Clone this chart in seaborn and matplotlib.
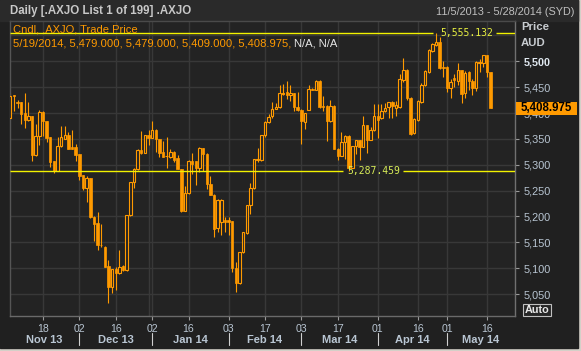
import numpy as np
import pandas as pd
import matplotlib
matplotlib.use("Agg")
import matplotlib.pyplot as plt
from matplotlib.patches import Rectangle
import seaborn as sns

# daily OHLC for .AXJO, 5 Nov 2013 .. 19 May 2014
opens = [5390, 5434, 5421, 5421, 5400, 5386, 5394, 5318, 5356, 5402,
         5384, 5353, 5307, 5288, 5336, 5350, 5358, 5334, 5334, 5320,
         5280, 5256, 5274, 5199, 5188, 5145, 5140, 5105, 5063, 5098,
         5090, 5104, 5096, 5202, 5267, 5291, 5328, 5323, 5358, 5352,
         5368, 5349, 5325, 5316, 5315, 5325, 5313, 5291, 5211, 5245,
         5308, 5307, 5293, 5332, 5321, 5263, 5242, 5177, 5190, 5193,
         5193, 5191, 5100, 5071, 5131, 5168, 5223, 5255, 5310, 5309,
         5358, 5382, 5395, 5408, 5411, 5436, 5441, 5435, 5438, 5412,
         5406, 5382, 5406, 5446, 5445, 5462, 5414, 5414, 5384, 5414,
         5330, 5317, 5344, 5356, 5294, 5336, 5347, 5335, 5376, 5348,
         5367, 5395, 5390, 5403, 5411, 5422, 5410, 5411, 5463, 5483,
         5430, 5362, 5387, 5422, 5455, 5480, 5520, 5532, 5537, 5490,
         5489, 5449, 5467, 5462, 5483, 5438, 5480, 5462, 5449, 5496,
         5497, 5512, 5479]
highs = [5438, 5435, 5426, 5422, 5438, 5421, 5395, 5379, 5406, 5404,
         5385, 5354, 5308, 5354, 5375, 5375, 5364, 5367, 5341, 5321,
         5281, 5278, 5275, 5200, 5209, 5186, 5143, 5116, 5099, 5102,
         5136, 5106, 5203, 5267, 5293, 5330, 5365, 5358, 5367, 5384,
         5369, 5350, 5346, 5354, 5330, 5326, 5319, 5292, 5258, 5310,
         5322, 5308, 5334, 5333, 5322, 5279, 5243, 5233, 5233, 5199,
         5199, 5192, 5112, 5132, 5170, 5223, 5265, 5312, 5332, 5358,
         5384, 5398, 5422, 5420, 5455, 5457, 5462, 5454, 5439, 5440,
         5407, 5400, 5455, 5448, 5463, 5463, 5433, 5415, 5425, 5415,
         5332, 5364, 5358, 5357, 5337, 5348, 5348, 5395, 5377, 5373,
         5417, 5417, 5417, 5420, 5422, 5423, 5424, 5475, 5507, 5485,
         5431, 5390, 5425, 5458, 5483, 5523, 5536, 5555.132, 5548, 5500,
         5491, 5466, 5476, 5496, 5484, 5482, 5482, 5466, 5501, 5505,
         5512, 5513, 5479]
lows = [5389, 5404, 5409, 5379, 5372, 5385, 5307, 5317, 5339, 5355,
        5344, 5296, 5285, 5287, 5335, 5349, 5331, 5330, 5307, 5270,
        5251, 5227, 5197, 5153, 5135, 5140, 5103, 5032, 5052, 5058,
        5089, 5095, 5095, 5201, 5256, 5290, 5320, 5322, 5339, 5351,
        5325, 5315, 5315, 5294, 5314, 5306, 5291, 5208, 5210, 5244,
        5283, 5260, 5286, 5287, 5254, 5241, 5160, 5170, 5164, 5170,
        5164, 5093, 5054, 5070, 5130, 5167, 5205, 5254, 5305, 5308,
        5354, 5380, 5391, 5407, 5410, 5435, 5428, 5424, 5404, 5404,
        5340, 5369, 5405, 5444, 5444, 5410, 5404, 5345, 5383, 5330,
        5309, 5316, 5311, 5287.459, 5293, 5321, 5310, 5334, 5322, 5347,
        5366, 5351, 5389, 5402, 5391, 5391, 5395, 5410, 5460, 5425,
        5358, 5360, 5385, 5420, 5453, 5477, 5518, 5530, 5485, 5470,
        5440, 5430, 5450, 5455, 5420, 5430, 5445, 5435, 5442, 5480,
        5490, 5470, 5409]
closes = [5433, 5432, 5420, 5399, 5386, 5394, 5318, 5356, 5402, 5384,
          5352, 5306, 5287, 5336, 5354, 5358, 5331, 5331, 5319, 5278,
          5256, 5275, 5198, 5186, 5144, 5144, 5103, 5063, 5098, 5090,
          5103, 5096, 5202, 5267, 5291, 5328, 5323, 5358, 5351, 5368,
          5349, 5323, 5315, 5317, 5325, 5310, 5291, 5211, 5245, 5308,
          5301, 5293, 5332, 5321, 5263, 5242, 5176, 5232, 5232, 5190,
          5190, 5100, 5071, 5131, 5169, 5223, 5256, 5311, 5311, 5358,
          5382, 5393, 5408, 5412, 5439, 5439, 5435, 5438, 5411, 5405,
          5384, 5400, 5446, 5445, 5462, 5411, 5411, 5384, 5414, 5330,
          5317, 5344, 5356, 5294, 5336, 5347, 5335, 5376, 5348, 5367,
          5395, 5387, 5404, 5409, 5422, 5413, 5415, 5465, 5483, 5430,
          5360, 5389, 5423, 5455, 5481, 5521, 5533, 5537, 5487, 5487,
          5449, 5460, 5464, 5483, 5436, 5478, 5461, 5449, 5499, 5499,
          5512, 5480, 5408.975]

asx_holidays = ["2013-12-25", "2013-12-26", "2014-01-01", "2014-01-27",
                "2014-04-18", "2014-04-21", "2014-04-25"]
tick_dates = ["2013-11-18", "2013-12-02", "2013-12-16", "2014-01-02", "2014-01-16",
              "2014-02-03", "2014-02-17", "2014-03-03", "2014-03-17", "2014-04-01",
              "2014-04-16", "2014-05-01", "2014-05-16"]
month_starts = ["2013-12-02", "2014-01-02", "2014-02-03", "2014-03-03",
                "2014-04-01", "2014-05-01"]
month_labels = ["Nov 13", "Dec 13", "Jan 14", "Feb 14", "Mar 14", "Apr 14", "May 14"]
price_ticks = [5050, 5100, 5150, 5200, 5250, 5300, 5350, 5400, 5450, 5500]

high_mark = 5555.132
low_mark = 5287.459
last_close = 5408.975

ORANGE = "#ff9a00"
BG = "#232323"
PANEL = "#202020"
GRID = "#383838"
YEL = "#f2f200"
LBL = "#b9c6d3"

W, H = 581, 351

sns.set_theme(style="dark", rc={"axes.facecolor": BG, "figure.facecolor": "#d4d0c8"})
plt.rcParams["font.family"] = ["Liberation Sans", "DejaVu Sans"]

days = pd.bdate_range("2013-11-05", "2014-05-28")
days = days[~days.isin(pd.to_datetime(asx_holidays))]
pos = {d: i for i, d in enumerate(days)}

fig = plt.figure(figsize=(W / 100, H / 100), dpi=100)
# dark panel and header strip
fig.patches.append(Rectangle((0, 1 - 348 / H), 578 / W, 348 / H, transform=fig.transFigure,
                             color=PANEL, zorder=-10))
fig.patches.append(Rectangle((0, 1 - 21 / H), 578 / W, 21 / H, transform=fig.transFigure,
                             color="#2a2a2a", zorder=-9))

ax = fig.add_axes([9.5 / W, 1 - 316 / H, (515 - 9.5) / W, (316 - 21) / H])

x = np.arange(len(opens))
o = np.array(opens, float)
c = np.array(closes, float)
up = c > o
bottom = np.minimum(o, c)
height = np.maximum(np.abs(c - o), 0.8)

ax.vlines(x, lows, highs, color=ORANGE, lw=0.8, zorder=2)
ax.bar(x[~up], height[~up], 0.68, bottom=bottom[~up], color=ORANGE,
       edgecolor=ORANGE, lw=0.5, zorder=3)
ax.bar(x[up], height[up], 0.68, bottom=bottom[up], color=BG,
       edgecolor=ORANGE, lw=0.8, zorder=3)

x0, x1 = -0.2, 138.7
ax.set_xlim(x0, x1)
ax.set_ylim(5007.5, 5578)

# marker lines with a gap for their labels
ax.hlines(high_mark, x0, 116.2, color=YEL, lw=1, zorder=4)
ax.hlines(high_mark, 133.5, x1, color=YEL, lw=1, zorder=4)
ax.text(118.3, high_mark, f"{high_mark:,.3f}", color="#e8f040", fontsize=7,
        family="DejaVu Sans Mono", va="center", ha="left", zorder=5)
ax.hlines(low_mark, x0, 91.4, color=YEL, lw=1, zorder=4)
ax.hlines(low_mark, 107.9, x1, color=YEL, lw=1, zorder=4)
ax.text(92.7, low_mark, f"{low_mark:,.3f}", color="#d8ec58", fontsize=7,
        family="DejaVu Sans Mono", va="center", ha="left", zorder=5)

# grid
ax.grid(True, color=GRID, lw=1)
ax.axhline(5550, color=GRID, lw=1, zorder=0)
ax.axvline(pos[pd.Timestamp("2013-12-31")], color=GRID, lw=1, zorder=0)
ax.set_axisbelow(True)

# x axis
tick_idx = [pos[pd.Timestamp(d)] for d in tick_dates]
ax.set_xticks(tick_idx)
ax.set_xticklabels([d[-2:] for d in tick_dates])
ax.tick_params(axis="x", bottom=True, length=3, width=0.8, color="#9a9a9a",
               pad=3, labelsize=7.6, labelcolor=LBL)

bounds = [x0] + [pos[pd.Timestamp(d)] for d in month_starts] + [x1]
tr = ax.get_xaxis_transform()
for k, name in enumerate(month_labels):
    ax.text((bounds[k] + bounds[k + 1]) / 2, (316 - 340) / 295, name, transform=tr,
            ha="center", va="center", fontsize=8, fontweight="bold", color=LBL,
            clip_on=False)
for b in bounds[1:-1]:
    ax.plot([b, b], [(316 - 333) / 295, (316 - 345) / 295], transform=tr,
            color="#cfcfcf", lw=0.8, clip_on=False)

# y axis on the right
ax.yaxis.tick_right()
ax.set_yticks(price_ticks)
ax.set_yticklabels([f"{v:,}" for v in price_ticks])
ax.tick_params(axis="y", right=True, left=False, length=3, width=0.8, color="#9a9a9a",
               pad=3, labelsize=7.8, labelcolor=LBL)
for lab in ax.get_yticklabels():
    if lab.get_text() == "5,500":
        lab.set_fontweight("bold")
        lab.set_color("#dfe7ef")

for side, col in [("left", "#555555"), ("right", "#707070"),
                  ("bottom", "#6a6a6a"), ("top", "#4a4a4a")]:
    ax.spines[side].set_visible(True)
    ax.spines[side].set_color(col)
    ax.spines[side].set_linewidth(1)

# last price tag
ytr = ax.get_yaxis_transform()
tag_h = 12.5 / 0.5171
ax.add_patch(Rectangle((1.002, last_close - tag_h / 2), 61 / 505.5, tag_h, transform=ytr,
                       fc=ORANGE, ec="none", clip_on=False, zorder=10))
ax.text(1.002 + 30.5 / 505.5, last_close, f"{last_close:,.3f}", transform=ytr,
        ha="center", va="center", fontsize=8.3, fontweight="bold", color="black",
        clip_on=False, zorder=11)

# header and legend texts
fig.text(10 / W, 1 - 11 / H, "Daily [.AXJO List 1 of 199] .AXJO", fontsize=8.3,
         fontweight="bold", color="#c8c8c8", va="center")
fig.text(574 / W, 1 - 12 / H, "11/5/2013 - 5/28/2014 (SYD)", fontsize=7.8,
         color="#c0c0c0", va="center", ha="right")
fig.text(13 / W, 1 - 30 / H, "Cndl, .AXJO, Trade Price", fontsize=8,
         color=ORANGE, va="center")
t1 = fig.text(13 / W, 1 - 43 / H, "5/19/2014, 5,479.000, 5,479.000, 5,409.000, 5,408.975, ",
              fontsize=8.1, color=ORANGE, va="center")
ax.annotate("N/A, N/A", xy=(1, 0), xycoords=t1, va="bottom", ha="left",
            fontsize=8.1, color="#e6e6e6", annotation_clip=False)
fig.text(521 / W, 1 - 27.5 / H, "Price", fontsize=8.2, fontweight="bold",
         color="#c8ccd0", va="center")
fig.text(521 / W, 1 - 42.5 / H, "AUD", fontsize=8.2, fontweight="bold",
         color="#c8ccd0", va="center")
fig.patches.append(Rectangle((522.5 / W, 1 - 316 / H), 28.5 / W, 12 / H,
                             transform=fig.transFigure, fc="#262626", ec="#c0c0c0",
                             lw=0.8, zorder=5))
fig.text(536.7 / W, 1 - 310 / H, "Auto", fontsize=7.8, fontweight="bold",
         color="#e8e8e8", va="center", ha="center", zorder=6)

fig.savefig("out.png", dpi=100, facecolor=fig.get_facecolor())
